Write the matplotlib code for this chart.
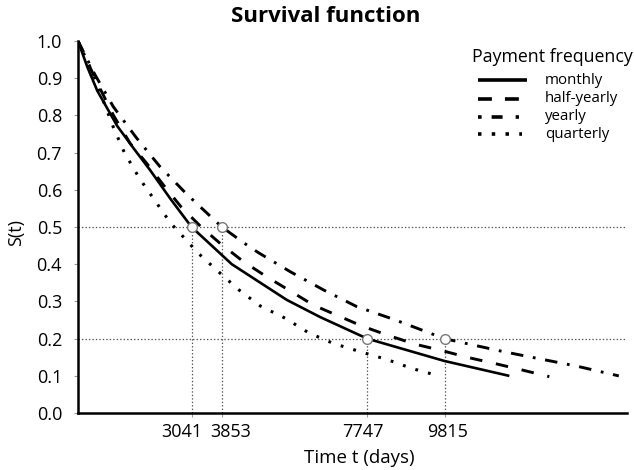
import matplotlib
matplotlib.use("Agg")
import matplotlib.pyplot as plt
from matplotlib.lines import Line2D
from matplotlib.transforms import ScaledTranslation

plt.rcParams['font.family'] = ['Open Sans', 'DejaVu Sans']
plt.rcParams['lines.scale_dashes'] = False

# Data
monthly_t = [0, 250, 517, 1053, 1500, 1930, 2480, 3041, 4119, 5593, 6485, 7747, 9815, 11550]
monthly_s = [1.0, 0.93, 0.866, 0.771, 0.71, 0.653, 0.575, 0.5, 0.4, 0.304, 0.258, 0.2, 0.14, 0.1]

halfyearly_t = [0, 500, 950, 1394, 1840, 2287, 2752, 3300, 3806, 4430, 5057, 5637, 6307, 6932,
                7603, 8272, 9032, 9746, 10418, 11131, 11846, 12620]
halfyearly_s = [1.0, 0.89, 0.80, 0.725, 0.671, 0.613, 0.555, 0.5, 0.456, 0.407, 0.366, 0.331,
                0.29, 0.263, 0.234, 0.21, 0.185, 0.168, 0.15, 0.134, 0.117, 0.098]

yearly_t = [0, 450, 947, 1554, 2180, 2894, 3627, 3853, 4430, 4832, 5682, 6574, 7468, 8450,
            9815, 11399, 13365, 14480]
yearly_s = [1.0, 0.91, 0.823, 0.741, 0.664, 0.59, 0.521, 0.5, 0.458, 0.431, 0.38, 0.331, 0.286,
            0.252, 0.2, 0.165, 0.126, 0.1]

quarterly_t = [0, 430, 750, 947, 1242, 1644, 2046, 2484, 2734, 3225, 3761, 4297, 4878, 5548,
               6172, 6842, 7558, 8272, 8942, 9657]
quarterly_s = [1.0, 0.905, 0.82, 0.768, 0.70, 0.631, 0.573, 0.51, 0.483, 0.429, 0.38, 0.332,
               0.288, 0.255, 0.216, 0.187, 0.165, 0.144, 0.12, 0.1]

marker_t = [3041, 3853, 7747, 9815]
marker_s = [0.5, 0.5, 0.2, 0.2]
ref_levels = [0.5, 0.2]

xtick_labels = ['3041', '3853', '7747', '9815']
ytick_values = [0.0, 0.1, 0.2, 0.3, 0.4, 0.5, 0.6, 0.7, 0.8, 0.9, 1.0]
legend_title = 'Payment frequency'
legend_labels = ['monthly', 'half-yearly', 'yearly', 'quarterly']

W, H = 634, 470
fig = plt.figure(figsize=(W / 100, H / 100), dpi=100)
ax = fig.add_axes([0.123, 0.121, 0.866, 0.792])

XMAX = 14700
ax.set_xlim(0, XMAX)
ax.set_ylim(0, 1.0)

grey = '#555555'
for lv in ref_levels:
    ax.plot([0, XMAX], [lv, lv], color=grey, lw=0.9, dashes=(1, 1.5), zorder=1)
for t, s in zip(marker_t, marker_s):
    ax.plot([t, t], [0, s], color=grey, lw=0.9, dashes=(1, 1.5), zorder=1)

styles = [
    dict(lw=1.9, solid_capstyle='butt'),
    dict(lw=2.1, dashes=(9, 10), dash_capstyle='butt'),
    dict(lw=2.1, dashes=(9, 7, 2, 7), dash_capstyle='butt'),
    dict(lw=2.2, dashes=(2, 7.4), dash_capstyle='butt'),
]
series = [(monthly_t, monthly_s), (halfyearly_t, halfyearly_s),
          (yearly_t, yearly_s), (quarterly_t, quarterly_s)]
for (t, s), st in zip(series, styles):
    ax.plot(t, s, color='black', zorder=3, **st)

ax.plot(marker_t, marker_s, linestyle='none', marker='o', markersize=7,
        markerfacecolor='white', markeredgecolor='#777777', markeredgewidth=1.0, zorder=4)

for sp in ['top', 'right']:
    ax.spines[sp].set_visible(False)
for sp in ['left', 'bottom']:
    ax.spines[sp].set_linewidth(1.8)

ax.set_yticks(ytick_values)
ax.set_yticklabels([f'{v:.1f}' for v in ytick_values])
ax.set_xticks(marker_t)
ax.set_xticklabels(xtick_labels)
ax.tick_params(axis='both', labelsize=13, length=3, width=0.8, color='#999999')
ax.tick_params(axis='y', pad=8.5)
ax.tick_params(axis='x', pad=4)

# nudge the crowded x tick labels apart, as in the reference
shifts = [-10, 9, -4, 3]
for lab, dx in zip(ax.get_xticklabels(), shifts):
    lab.set_transform(lab.get_transform() + ScaledTranslation(dx / 100, 0, fig.dpi_scale_trans))

ax.set_xlabel('Time t (days)', fontsize=13.5, labelpad=6)
ax.xaxis.label.set_x(0.512)
ax.set_ylabel('S(t)', fontsize=13, labelpad=8)
ax.yaxis.label.set_y(0.485)

fig.text(0.513, 0.964, 'Survival function', fontsize=16, fontweight='bold',
         ha='center', va='center')

# legend drawn by hand to match the reference's compact spacing
fig.text(472 / W, 1 - 57 / H, legend_title, fontsize=12.8, ha='left', va='center')
handle_styles = [
    dict(lw=2.6, solid_capstyle='butt'),
    dict(lw=2.6, dashes=(10, 9.4), dash_capstyle='butt'),
    dict(lw=2.6, dashes=(2.6, 7.2, 7.9, 9.4, 2.4, 30), dash_capstyle='butt'),
    dict(lw=2.6, dashes=(2.5, 7.4), dash_capstyle='butt'),
]
handle_ends = [527, 520, 520, 522]
row_y = [80, 98.5, 116.5, 133.5]
for lab, hs, y, xe in zip(legend_labels, handle_styles, row_y, handle_ends):
    fig.add_artist(Line2D([478 / W, xe / W], [1 - y / H, 1 - y / H],
                          transform=fig.transFigure, color='black', **hs))
    fig.text(545 / W, 1 - (y + 0.5) / H, lab, fontsize=10.8, ha='left', va='center')

fig.savefig('out.png', dpi=100)
